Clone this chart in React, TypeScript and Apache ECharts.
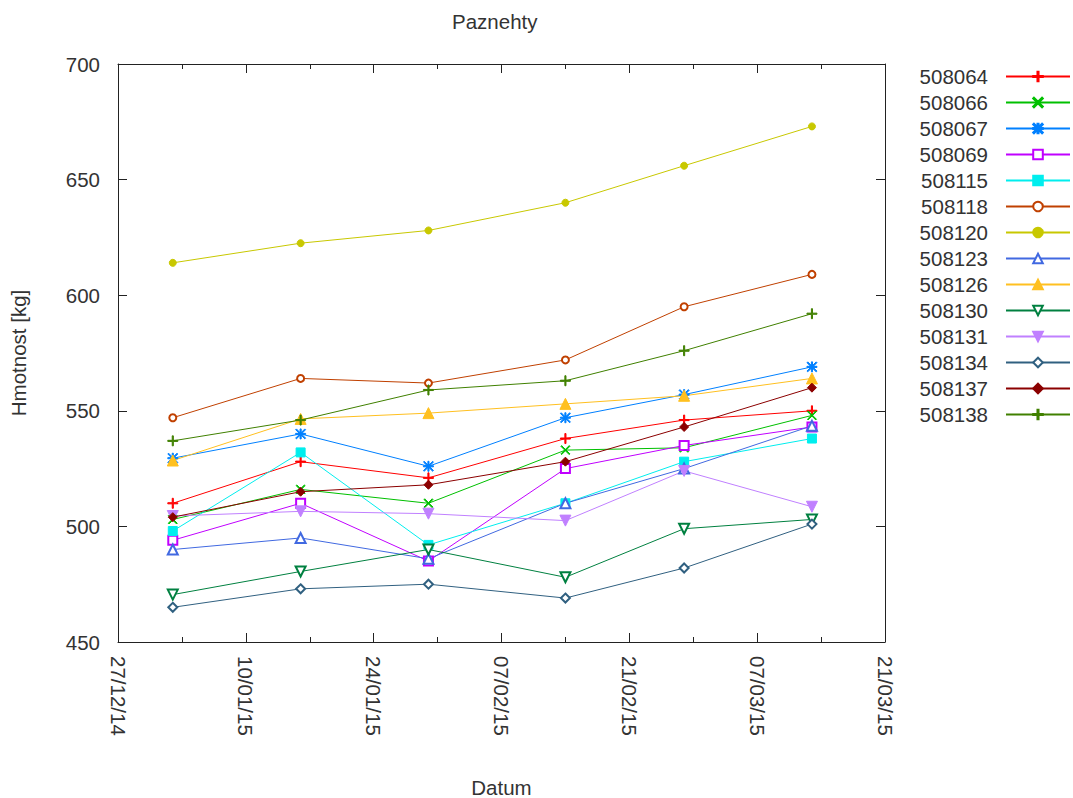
import React, { useEffect, useRef } from "react";
import * as echarts from "echarts";

// ---- data ----
const baseDate = "2014-12-27";
const sampleDates = ["2015-01-02", "2015-01-16", "2015-01-30", "2015-02-14", "2015-02-27", "2015-03-13"];
const xTickLabels = ["27/12/14", "10/01/15", "24/01/15", "07/02/15", "21/02/15", "07/03/15", "21/03/15"];
const yTicks = [450, 500, 550, 600, 650, 700];

const names = ["508064", "508066", "508067", "508069", "508115", "508118", "508120", "508123", "508126", "508130", "508131", "508134", "508137", "508138"];

const v508064 = [510, 528, 521, 538, 546, 550];
const v508066 = [503, 516, 510, 533, 534, 548];
const v508067 = [529.5, 540, 526, 547, 557, 569];
const v508069 = [494, 510, 485, 525, 535, 543];
const v508115 = [498, 532, 492, 510, 528, 538];
const v508118 = [547, 564, 562, 572, 595, 609];
const v508120 = [614, 622.5, 628, 640, 656, 673];
const v508123 = [490, 495, 486, 510, 525, 543.5];
const v508126 = [528.5, 546.5, 549, 553, 556.5, 564];
const v508130 = [470.5, 480.5, 490, 478, 499, 503];
const v508131 = [504.5, 506.5, 505.5, 502.5, 524, 508.5];
const v508134 = [465, 473, 475, 469, 482, 501];
const v508137 = [504, 515, 518, 528, 543, 560];
const v508138 = [537, 546, 559, 563, 576, 592];

const allValues = [v508064, v508066, v508067, v508069, v508115, v508118, v508120, v508123, v508126, v508130, v508131, v508134, v508137, v508138];

const colors = ["#ff0000", "#00c000", "#0080ff", "#c000ff", "#00eeee", "#c04000", "#c8c800", "#4169e1", "#ffc020", "#008040", "#c080ff", "#306080", "#8b0000", "#408000"];

// ---- styling ----
const PLUS = "path://M4,0L5,0L5,4L9,4L9,5L5,5L5,9L4,9L4,5L0,5L0,4L4,4Z";
const XMARK = "path://M0.7,0L9,8.3L8.3,9L0,0.7Z M8.3,0L9,0.7L0.7,9L0,8.3Z";
const STAR = "path://M4,0L5,0L5,4L9,4L9,5L5,5L5,9L4,9L4,5L0,5L0,4L4,4Z M0.7,0L9,8.3L8.3,9L0,0.7Z M8.3,0L9,0.7L0.7,9L0,8.3Z";
const symbols: any[] = [
  { symbol: PLUS, size: 10, rotate: 0 },
  { symbol: XMARK, size: 9, rotate: 0 },
  { symbol: STAR, size: 10, rotate: 0 },
  { symbol: "emptyRect", size: 9, rotate: 0 },
  { symbol: "rect", size: 9, rotate: 0 },
  { symbol: "emptyCircle", size: 7, rotate: 0 },
  { symbol: "circle", size: 7, rotate: 0 },
  { symbol: "emptyTriangle", size: 10, rotate: 0 },
  { symbol: "triangle", size: 11, rotate: 0 },
  { symbol: "emptyTriangle", size: 10, rotate: 180 },
  { symbol: "triangle", size: 11, rotate: 180 },
  { symbol: "emptyDiamond", size: 9, rotate: 0 },
  { symbol: "diamond", size: 9, rotate: 0 },
  { symbol: PLUS, size: 10, rotate: 0 },
];

const FONT = "Liberation Sans";
const FS = 20.5;
const TXT = "#333333";
const AX = "#222222";

const DAY = 86400000;
const toDays = (d: string) => Math.round((Date.parse(d) - Date.parse(baseDate)) / DAY);

export default function App() {
  const ref = useRef<HTMLDivElement>(null);
  useEffect(() => {
    if (!ref.current) return;
    const chart = echarts.init(ref.current, null, { renderer: "svg" });
    const xs = sampleDates.map(toDays);
    const axisCommon = {
      axisLine: { show: true, onZero: false, lineStyle: { color: AX, width: 1 } },
      splitLine: { show: false },
    };
    const series = names.map((n, i) => ({
      name: n,
      type: "line",
      xAxisIndex: 0,
      yAxisIndex: 0,
      data: xs.map((x, j) => [x, allValues[i][j]]),
      symbol: symbols[i].symbol,
      symbolSize: symbols[i].size,
      symbolRotate: symbols[i].rotate,
      showAllSymbol: true,
      color: colors[i],
      lineStyle: { width: 1, color: colors[i] },
      itemStyle: { color: colors[i], borderColor: colors[i], borderWidth: 1 },
      emphasis: { disabled: true },
    }));
    chart.setOption({
      animation: false,
      backgroundColor: "#ffffff",
      textStyle: { fontFamily: FONT },
      title: {
        text: "Paznehty",
        left: 452,
        top: 11,
        padding: 0,
        textStyle: { fontFamily: FONT, fontSize: FS, fontWeight: "normal", color: TXT },
      },
      legend: {
        orient: "vertical",
        right: 2,
        top: 66,
        padding: 0,
        align: "right",
        itemWidth: 64,
        itemHeight: 12,
        itemGap: 5,
        selectedMode: false,
        data: names,
        textStyle: { fontFamily: FONT, fontSize: FS, color: TXT, lineHeight: 20, padding: [0, 13, 0, 0] },
      },
      grid: { left: 118, right: 188, top: 64, bottom: 156, outerBoundsMode: "none" },
      xAxis: [
        {
          type: "value",
          min: 0,
          max: 84,
          interval: 14,
          name: "Datum",
          nameLocation: "middle",
          nameGap: 136,
          nameTextStyle: { fontFamily: FONT, fontSize: FS, color: TXT, lineHeight: 18 },
          ...axisCommon,
          axisTick: { show: true, inside: true, length: 9, lineStyle: { color: AX } },
          minorTick: { show: true, splitNumber: 2, length: 5, lineStyle: { color: AX } },
          axisLabel: {
            rotate: -90,
            margin: 14,
            fontFamily: FONT,
            fontSize: FS,
            color: TXT,
            formatter: (v: number) => xTickLabels[Math.round(v / 14)] ?? "",
          },
        },
        {
          type: "value",
          position: "top",
          min: 0,
          max: 84,
          interval: 14,
          ...axisCommon,
          axisTick: { show: true, inside: true, length: 9, lineStyle: { color: AX } },
          minorTick: { show: true, splitNumber: 2, length: 5, lineStyle: { color: AX } },
          axisLabel: { show: false },
        },
      ],
      yAxis: [
        {
          type: "value",
          min: yTicks[0],
          max: yTicks[yTicks.length - 1],
          interval: 50,
          name: "Hmotnost [kg]",
          nameLocation: "middle",
          nameGap: 89,
          nameTextStyle: { fontFamily: FONT, fontSize: FS, color: TXT },
          ...axisCommon,
          axisTick: { show: true, inside: true, length: 9, lineStyle: { color: AX } },
          axisLabel: { margin: 18, fontFamily: FONT, fontSize: FS, color: TXT },
        },
        {
          type: "value",
          position: "right",
          min: yTicks[0],
          max: yTicks[yTicks.length - 1],
          interval: 50,
          ...axisCommon,
          axisTick: { show: true, inside: true, length: 9, lineStyle: { color: AX } },
          axisLabel: { show: false },
        },
      ],
      series,
    });
    return () => chart.dispose();
  }, []);
  return (
    <div
      ref={ref}
      style={{ position: "fixed", left: 0, top: 0, width: 1073, height: 798, background: "#fff" }}
    />
  );
}
